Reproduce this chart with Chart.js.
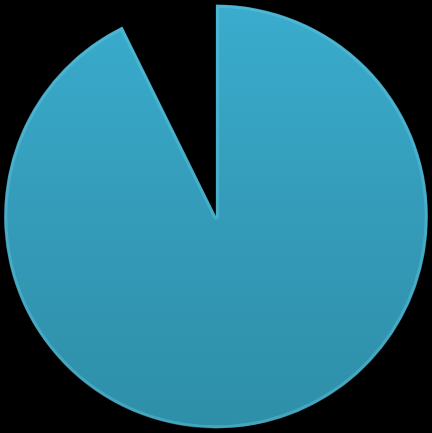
<!DOCTYPE html>
<html>
<head>
<meta charset="utf-8">
<script src="https://cdn.jsdelivr.net/npm/chart.js@4/dist/chart.umd.min.js"></script>
<style>
html,body{margin:0;padding:0;background:#000;}
#wrap{width:432px;height:433px;}
</style>
</head>
<body>
<div id="wrap"><canvas id="c"></canvas></div>
<script>
const categories = ["A", "B"];
const values = [92.7, 7.3];

function sliceColor(context) {
  if (context.dataIndex === 1) return 'rgba(0,0,0,0)';
  const chart = context.chart;
  const area = chart.chartArea;
  if (!area) return '#35a0be';
  const g = chart.ctx.createLinearGradient(0, area.top, 0, area.bottom);
  g.addColorStop(0, '#3aaccd');
  g.addColorStop(0.5, '#349bb9');
  g.addColorStop(1, '#2e8fa8');
  return g;
}
function edgeColor(context) {
  if (context.dataIndex === 1) return 'rgba(0,0,0,0)';
  return 'rgba(110,205,230,0.35)';
}

new Chart(document.getElementById('c'), {
  type: 'pie',
  data: {
    labels: categories,
    datasets: [{
      data: values,
      backgroundColor: sliceColor,
      borderColor: edgeColor,
      borderWidth: 3,
      borderAlign: 'inner',
      hoverOffset: 0
    }]
  },
  options: {
    responsive: true,
    maintainAspectRatio: false,
    animation: false,
    layout: { padding: 4 },
    plugins: { legend: { display: false }, tooltip: { enabled: false } }
  }
});
</script>
</body>
</html>
